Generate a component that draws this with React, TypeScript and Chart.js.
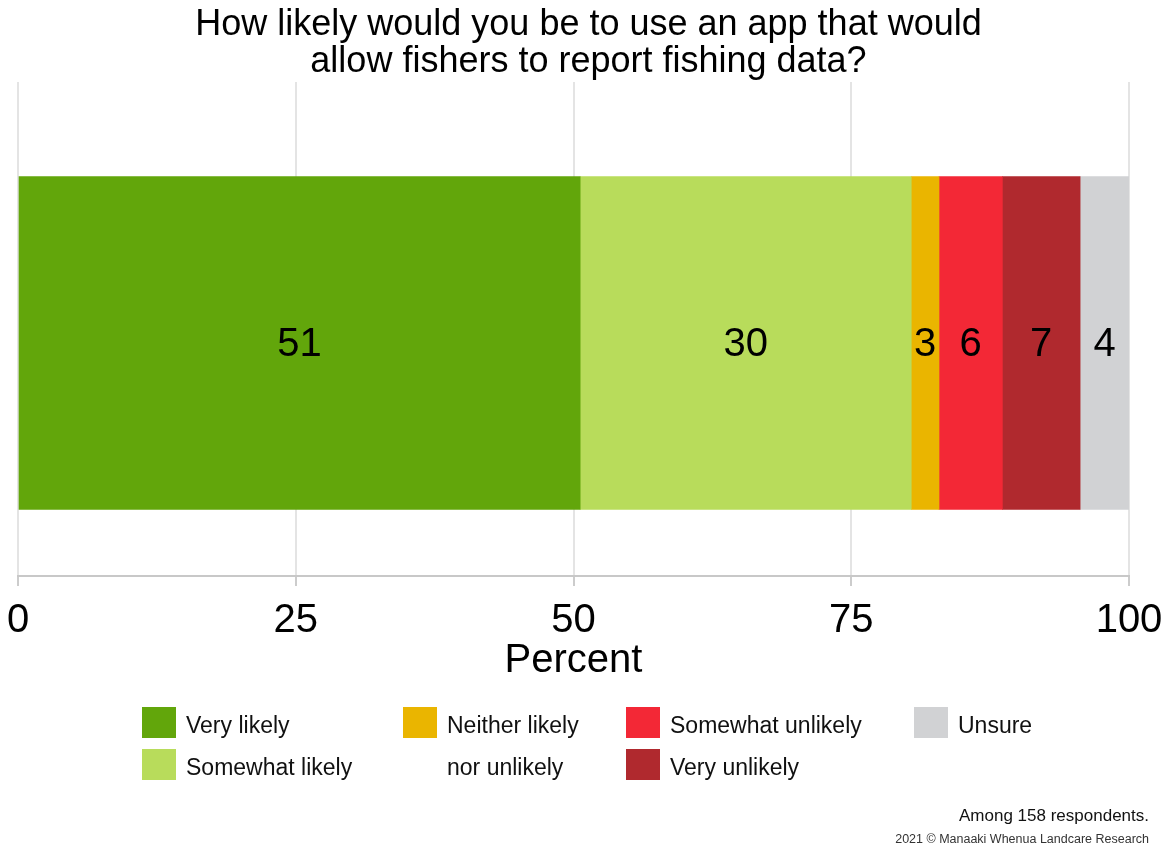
import React, { useEffect, useRef } from 'react';
import { Chart, registerables } from 'chart.js';

Chart.register(...registerables);

// ---- Data ----
const chartTitle = ['How likely would you be to use an app that would', 'allow fishers to report fishing data?'];
const categories = [
  'Very likely',
  'Somewhat likely',
  'Neither likely nor unlikely',
  'Somewhat unlikely',
  'Very unlikely',
  'Unsure',
];
const percentValues = [50.6, 29.8, 2.5, 5.7, 7.0, 4.4];
const barColors = ['#62a60b', '#b8dc5b', '#eab500', '#f32836', '#b0292e', '#d1d2d4'];
const xTickValues = [0, 25, 50, 75, 100];
const axisTitle = 'Percent';
const respondentNote = 'Among 158 respondents.';
const copyrightNote = '2021 © Manaaki Whenua Landcare Research';
const responseRow = 0;

const FONT = "'Liberation Sans', Arial, Helvetica, sans-serif";

const barValueLabels = {
  id: 'barValueLabels',
  afterDatasetsDraw(chart: any) {
    const { ctx } = chart;
    ctx.save();
    ctx.font = `40px ${FONT}`;
    ctx.fillStyle = '#000';
    ctx.textAlign = 'center';
    ctx.textBaseline = 'middle';
    chart.data.datasets.forEach((ds: any, i: number) => {
      const meta = chart.getDatasetMeta(i);
      meta.data.forEach((el: any, j: number) => {
        const v = ds.data[j].x;
        const p = el.getProps(['x', 'y', 'base'], true);
        ctx.fillText(String(Math.round(v)), (p.x + p.base) / 2, p.y + 2);
      });
    });
    ctx.restore();
  },
};

export default function App() {
  const canvasRef = useRef<HTMLCanvasElement | null>(null);

  useEffect(() => {
    document.body.style.margin = '0';
    const canvas = canvasRef.current;
    if (!canvas) return;
    const chart = new Chart(canvas, {
      type: 'bar',
      data: {
        datasets: categories.map((c, i) => ({
          label: c,
          data: [{ x: percentValues[i], y: responseRow }],
          backgroundColor: barColors[i],
          borderWidth: 0,
          barThickness: 333,
        })),
      },
      options: {
        indexAxis: 'y',
        animation: false,
        responsive: false,
        devicePixelRatio: 1,
        layout: { padding: { top: 82, left: 18, right: 35, bottom: 174 } },
        plugins: {
          legend: { display: false },
          tooltip: { enabled: false },
          title: { display: false },
        },
        scales: {
          x: {
            type: 'linear',
            stacked: true,
            min: xTickValues[0],
            max: xTickValues[xTickValues.length - 1],
            afterBuildTicks: (scale: any) => {
              scale.ticks = xTickValues.map((v) => ({ value: v }));
            },
            afterFit: (scale: any) => {
              scale.paddingLeft = 0;
              scale.paddingRight = 0;
            },
            ticks: {
              font: { family: FONT, size: 40, lineHeight: 1 },
              color: '#000',
              padding: 14.5,
              maxRotation: 0,
              autoSkip: false,
            },
            grid: { color: '#e4e4e4', lineWidth: 2, tickLength: 10, tickColor: '#cccccc' },
            border: { color: '#c8c8c8', width: 2 },
            title: {
              display: true,
              text: axisTitle,
              font: { family: FONT, size: 40, lineHeight: 1 },
              color: '#000',
              padding: { top: -14, bottom: 0 },
            },
          },
          y: {
            type: 'linear',
            stacked: true,
            display: false,
            min: -0.467,
            max: 0.533,
          },
        },
      } as any,
      plugins: [barValueLabels],
    });
    return () => chart.destroy();
  }, []);

  // legend layout: column-major, 2 rows; the long label spans both rows
  const legendItems = categories.map((c, i) => (
    <div
      key={c}
      style={{
        display: 'flex',
        alignItems: 'flex-start',
        gridRow: i === 2 ? 'span 2' : undefined,
      }}
    >
      <div style={{ width: 34, height: 31, background: barColors[i], flex: '0 0 auto' }} />
      <div
        style={{
          marginLeft: 10,
          marginTop: -3.5,
          fontSize: 23,
          lineHeight: '42px',
          color: '#111',
          whiteSpace: i === 2 ? 'normal' : 'nowrap',
          maxWidth: i === 2 ? 150 : undefined,
        }}
      >
        {c}
      </div>
    </div>
  ));

  return (
    <div
      style={{
        position: 'absolute',
        left: 0,
        top: 0,
        width: 1164,
        height: 855,
        background: '#fff',
        fontFamily: FONT,
        overflow: 'hidden',
      }}
    >
      <canvas ref={canvasRef} width={1164} height={855} style={{ position: 'absolute', left: 0, top: 0, width: 1164, height: 855 }} />
      <div
        style={{
          position: 'absolute',
          left: 0,
          top: 4,
          width: 1177,
          textAlign: 'center',
          fontSize: 36,
          lineHeight: '37px',
          color: '#000',
        }}
      >
        {chartTitle.map((t) => (
          <div key={t}>{t}</div>
        ))}
      </div>
      <div
        style={{
          position: 'absolute',
          left: 142,
          top: 707,
          display: 'grid',
          gridAutoFlow: 'column',
          gridTemplateRows: '42px 42px',
          gridTemplateColumns: '261px 223px 288px 150px',
        }}
      >
        {legendItems}
      </div>
      <div
        style={{
          position: 'absolute',
          right: 15,
          top: 806,
          fontSize: 17,
          lineHeight: '20px',
          color: '#111',
          textAlign: 'right',
        }}
      >
        {respondentNote}
      </div>
      <div
        style={{
          position: 'absolute',
          right: 15,
          top: 831,
          fontSize: 12.5,
          lineHeight: '16px',
          color: '#333',
          textAlign: 'right',
        }}
      >
        {copyrightNote}
      </div>
    </div>
  );
}
